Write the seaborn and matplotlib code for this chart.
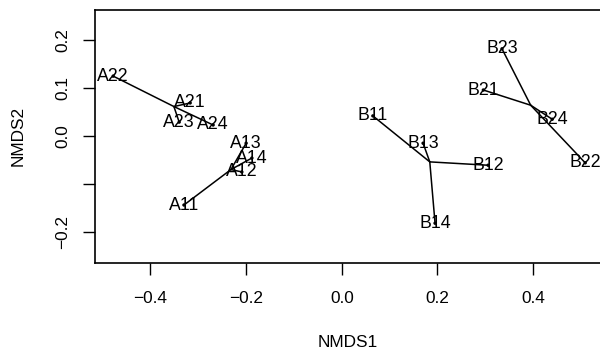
import numpy as np
import pandas as pd
import matplotlib
matplotlib.use("Agg")
import matplotlib.pyplot as plt
import seaborn as sns

sns.set_style("ticks")
plt.rcParams["font.family"] = ["Liberation Sans", "DejaVu Sans"]

# === NMDS site scores ===
sites = ["A11", "A12", "A13", "A14", "A21", "A22", "A23", "A24",
         "B11", "B12", "B13", "B14", "B21", "B22", "B23", "B24"]
groups = ["A1"] * 4 + ["A2"] * 4 + ["B1"] * 4 + ["B2"] * 4
nmds1 = [-0.330, -0.209, -0.200, -0.188, -0.317, -0.478, -0.340, -0.269,
         0.065, 0.306, 0.170, 0.195, 0.296, 0.509, 0.335, 0.440]
nmds2 = [-0.144, -0.075, -0.015, -0.046, 0.069, 0.125, 0.029, 0.023,
         0.042, -0.061, -0.015, -0.182, 0.096, -0.056, 0.182, 0.035]

x_ticks = [-0.4, -0.2, 0.0, 0.2, 0.4]
y_ticks = [-0.2, -0.1, 0.0, 0.1, 0.2]
y_tick_labels = ["-0.2", "", "0.0", "0.1", "0.2"]

df = pd.DataFrame({"site": sites, "group": groups, "NMDS1": nmds1, "NMDS2": nmds2})
cent = df.groupby("group")[["NMDS1", "NMDS2"]].mean()

FS = 12.4

fig = plt.figure(figsize=(6, 3.5), dpi=100)
ax = fig.add_axes([95 / 600, 1 - 262.5 / 350, (601 - 95) / 600, (262.5 - 10) / 350])

# spider lines: centroid -> each site
for _, r in df.iterrows():
    c = cent.loc[r["group"]]
    ax.plot([c["NMDS1"], r["NMDS1"]], [c["NMDS2"], r["NMDS2"]], color="black", lw=1.1, zorder=2)

sns.scatterplot(data=df, x="NMDS1", y="NMDS2", ax=ax, color="black", s=6,
                edgecolor="none", legend=False, zorder=3)

for _, r in df.iterrows():
    ax.text(r["NMDS1"], r["NMDS2"], r["site"], ha="center", va="center",
            fontsize=12.8, color="black", zorder=4)

ax.set_xlim(-0.516, 0.542)
ax.set_ylim(-0.264, 0.263)
ax.set_xticks(x_ticks)
ax.set_xticklabels([f"{v:.1f}".replace("-", "\u2212") for v in x_ticks], fontsize=FS)
ax.set_yticks(y_ticks)
ax.set_yticklabels([s.replace("-", "\u2212") for s in y_tick_labels], fontsize=FS,
                   rotation=90, va="center")
ax.tick_params(direction="out", length=8.4, width=1, pad=9.5, colors="black")
ax.tick_params(axis="x", pad=12)
for sp in ax.spines.values():
    sp.set_visible(True)
    sp.set_linewidth(1.2)
    sp.set_color("black")
ax.set_xlabel("NMDS1", fontsize=FS, labelpad=21, color="black")
ax.set_ylabel("NMDS2", fontsize=FS, labelpad=21, color="black")

fig.savefig("out.png", dpi=100)
